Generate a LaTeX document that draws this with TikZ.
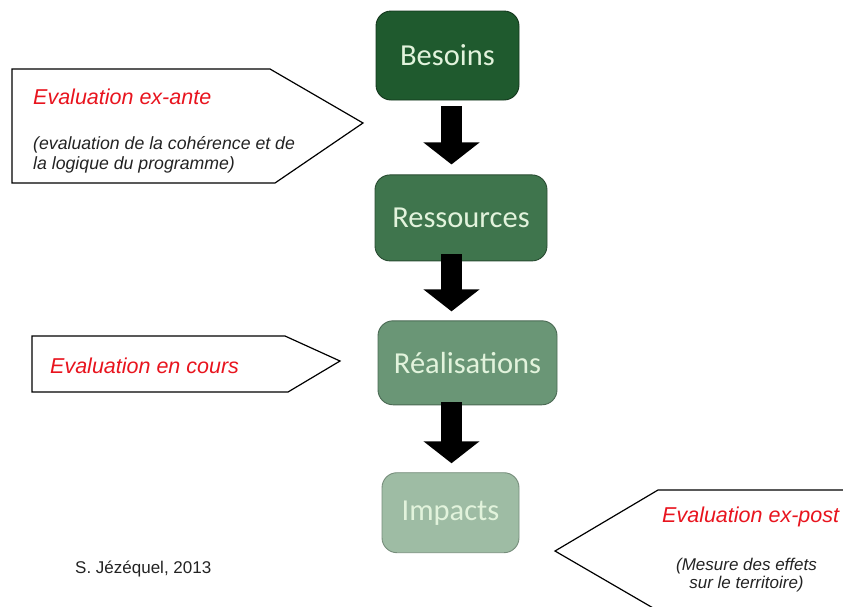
\documentclass[tikz,border=0pt]{standalone}
\usepackage{fontspec}
\setmainfont{Liberation Sans}
\newfontfamily\stagefont{Carlito}
\usetikzlibrary{arrows.meta, positioning}
\definecolor{besoinsfill}{RGB}{31,90,46}
\definecolor{ressourcesfill}{RGB}{63,117,77}
\definecolor{realisationsfill}{RGB}{106,150,118}
\definecolor{impactsfill}{RGB}{158,188,164}
\definecolor{stagetext}{RGB}{226,243,220}
\definecolor{evalred}{RGB}{232,20,30}
\definecolor{notegrey}{RGB}{35,35,35}
\tikzstyle{stage} = [rectangle, rounded corners=15pt, line width=0.9pt, text=stagetext, font=\stagefont\fontsize{30.5}{36}\selectfont]
\tikzstyle{blockarrow} = [line width=21pt, -{Triangle[width=55pt, length=22pt]}]
\tikzstyle{callout} = [line width=1.2pt, line join=miter]
\tikzstyle{evaltitle} = [anchor=base west, inner sep=0pt, text=evalred, font=\itshape\fontsize{21.5}{26}\selectfont]
\tikzstyle{evalnote} = [inner sep=0pt, text=notegrey, font=\itshape\fontsize{17.7}{19.8}\selectfont]

\begin{document}
\begin{tikzpicture}[x=1pt, y=-1pt]
		\useasboundingbox (0,0) rectangle (843,606);
		\clip (0,0) rectangle (843,606);
		\node (besoins) [stage, fill=besoinsfill, draw=besoinsfill!60!black, minimum width=143pt, minimum height=89pt] at (447.5,55.5) {Besoins};
		\node (ressources) [stage, fill=ressourcesfill, draw=ressourcesfill!65!black, minimum width=172pt, minimum height=86pt, below=74pt of besoins, xshift=13.5pt] {Ressources};
		\node (realisations) [stage, fill=realisationsfill, draw=realisationsfill!70!black, minimum width=179pt, minimum height=84pt, below=59pt of ressources, xshift=6.5pt] {Réalisations};
		\node (impacts) [stage, fill=impactsfill, draw=impactsfill!75!black, minimum width=137pt, minimum height=80pt, below=67pt of realisations, xshift=-17pt] {Impacts};
		\coordinate (axis) at (451.5,0);
		\draw [blockarrow, shorten <=6pt, shorten >=10pt] (besoins.south -| axis) -- (ressources.north -| axis);
		\draw [blockarrow, shorten <=-7pt, shorten >=9pt] (ressources.south -| axis) -- (realisations.north -| axis);
		\draw [blockarrow, shorten <=-3pt, shorten >=9pt] (realisations.south -| axis) -- (impacts.north -| axis);
		\draw [callout] (12,69) -- (270,69) -- (363,123) -- (275,183) -- (12,183) -- cycle;
		\node (exante) [evaltitle] at (33,104) {Evaluation ex-ante};
		\node (exantenote) [evalnote, anchor=north west, align=left] at (33,136) {(evaluation de la cohérence et de\\la logique du programme)};
		\draw [callout] (32,336) -- (285,336) -- (340,361) -- (288,392) -- (32,392) -- cycle;
		\node (encours) [evaltitle] at (50,373) {Evaluation en cours};
		\draw [callout] (850,490) -- (658,490) -- (555,551) -- (660,612);
		\node (expost) [evaltitle] at (662,522) {Evaluation ex-post};
		\node (expostnote) [evalnote, anchor=north, align=center, font=\itshape\fontsize{17}{17.5}\selectfont] at (746.5,558) {(Mesure des effets\\sur le territoire)};
		\node (credit) [anchor=base west, inner sep=0pt, text=notegrey, font=\fontsize{17}{20}\selectfont] at (75,573) {S. Jézéquel, 2013};
	\end{tikzpicture}
\end{document}
